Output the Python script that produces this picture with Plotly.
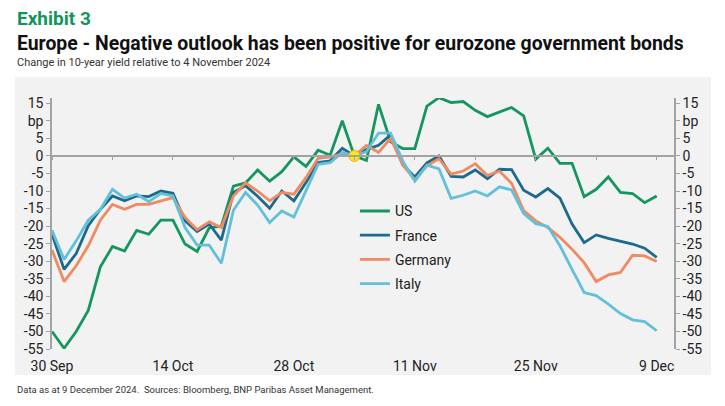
import pandas as pd
import plotly.graph_objects as go

# business days 30 Sep - 9 Dec 2024
datas = [d.strftime("%Y-%m-%d") for d in pd.bdate_range("2024-09-30", "2024-12-09")]

us = [-50, -54.8, -50, -44, -31.6, -25.8, -27.1, -21.2, -22.3, -18.3,
      -18.3, -25.1, -27.2, -20.5, -20, -8.6, -7.7, -4, -7.2, -4.5,
      -0.3, -3, 1.6, 0.2, 10, 0, -1.3, 14.7, 4, 2.1,
      2.1, 14.2, 16.6, 15.2, 15.5, 13, 11.2, 12.6, 13.8, 11.4,
      -0.9, 2.2, -2.1, -2.1, -11.6, -9.5, -6, -10.4, -10.7, -13.3,
      -11.4]
franca = [-22.3, -32.3, -27.8, -19.9, -15.2, -11.4, -12.8, -11.4, -11.6, -10,
          -10.6, -18.5, -21.5, -19.4, -24, -10.4, -8.5, -11.5, -14.9, -10,
          -12.8, -7.6, -1.9, -1.4, 2.2, 0, 1.8, 3, 6, -2.5,
          -6, -2, 0, -5.8, -6, -4, -6.5, -3.8, -3.9, -9.8,
          -11.7, -9.3, -12, -19.4, -24.7, -22.5, -23.5, -24.4, -25.1, -26.3,
          -28.9]
alemanha = [-26.8, -35.8, -31.3, -25.6, -18.3, -13.8, -15.2, -13.8, -13.8, -12.8,
            -11.9, -17.5, -21, -18.8, -20.4, -11.4, -7.7, -10, -12.8, -10.4,
            -10.9, -6.2, -0.7, -0.3, 0.5, 0, 3, 1, 5, -2.5,
            -6.8, -2.8, -0.8, -5.2, -4.3, -2.2, -5.6, -4.3, -7.8, -15.6,
            -18.5, -20.4, -23.2, -26.6, -30.4, -35.8, -33.9, -33.2, -28.3, -28.5,
            -30.1]
italia = [-21.2, -29.5, -24.2, -18.3, -15.2, -9.5, -12, -10.9, -13, -10.7,
          -11.4, -20.4, -25.4, -25.4, -30.6, -15.5, -10.4, -14, -19, -15.7,
          -17.4, -10, -2.4, -1.9, 1, 0, 1.2, 6.5, 6.5, -1.4,
          -7.2, -2.6, -3.7, -12.1, -11.2, -10, -11.4, -8.8, -9.7, -16.4,
          -19.3, -20.1, -25.6, -32.3, -38.9, -39.8, -42.2, -44.9, -46.7, -47.2,
          -49.8]

series = {"US": us, "France": franca, "Germany": alemanha, "Italy": italia}
cores = {"US": "#14965e", "France": "#1f6a8a", "Germany": "#ef8a62", "Italy": "#62c1da"}

data_ref = "2024-11-04"
semanas = datas[::5]
rotulos_x = ["30 Sep", "14 Oct", "28 Oct", "11 Nov", "25 Nov", "9 Dec"]
y_ticks = [15, 10, 5, 0, -5, -10, -15, -20, -25, -30, -35, -40, -45, -50, -55]
y_labels = ["15", "bp", "5", "0", "-5", "-10", "-15", "-20", "-25", "-30",
            "-35", "-40", "-45", "-50", "-55"]

cinza = "#a3a3a3"
fonte = "Roboto"

fig = go.Figure()
for nome, valores in series.items():
    fig.add_trace(go.Scatter(x=datas, y=valores, name=nome, mode="lines",
                             legendgroup=nome,
                             line=dict(color=cores[nome], width=2.8)))

fig.add_trace(go.Scatter(x=[data_ref], y=[0], xaxis="x2", yaxis="y2",
                         mode="markers", showlegend=False,
                         marker=dict(size=11, color="#ffe81a",
                                     line=dict(color="#f0b400", width=1))))

x_range = [0, 51.43]
y_range = [-55, 16.5]
zero_pos = (0 - y_range[0]) / (y_range[1] - y_range[0])

eixo_x = dict(type="category", categoryorder="array", categoryarray=datas,
              range=x_range, showgrid=False, zeroline=False)
eixo_y = dict(range=y_range, showgrid=False, zeroline=False, showline=True,
              linecolor=cinza, linewidth=1.5, ticks="outside", ticklen=4,
              tickcolor=cinza, tickwidth=1.2, tickvals=y_ticks, ticktext=y_labels,
              tickfont=dict(family=fonte, size=14, color="#222"))

fig.update_layout(
    width=725, height=406, autosize=False,
    margin=dict(l=52, r=51, t=98, b=57),
    paper_bgcolor="white", plot_bgcolor="rgba(0,0,0,0)",
    font=dict(family=fonte, color="#222"),
    xaxis=dict(eixo_x, showline=False, ticks="outside", ticklen=4,
               tickcolor="rgba(0,0,0,0)", tickvals=semanas[::2], ticktext=rotulos_x,
               tickfont=dict(family=fonte, size=14, color="#222")),
    xaxis2=dict(eixo_x, overlaying="x", anchor="free", position=zero_pos,
                showline=True, linecolor=cinza, linewidth=1.5, ticks="outside",
                ticklen=3, tickcolor=cinza, tickwidth=1.2, tickvals=semanas,
                showticklabels=False),
    yaxis=dict(eixo_y, side="left"),
    yaxis2=dict(eixo_y, side="right", overlaying="y", anchor="x"),
    legend=dict(x=0.487, y=0.612, xanchor="left", yanchor="top",
                bgcolor="rgba(0,0,0,0)", tracegroupgap=3,
                font=dict(family=fonte, size=14, color="#222")),
    shapes=[dict(type="rect", xref="paper", yref="paper", layer="below",
                 x0=-0.0595, x1=1.0595, y0=-0.1036, y1=1.0837,
                 fillcolor="#f2f2f2", line=dict(width=0))],
)

fig.add_annotation(text="<b>Exhibit 3</b>", xref="paper", yref="paper",
                   x=-0.0595, y=1.316, xanchor="left", yanchor="middle",
                   showarrow=False, font=dict(family=fonte, size=19, color="#12945c"))
fig.add_annotation(text="<b>Europe - Negative outlook has been positive for eurozone government bonds</b>",
                   xref="paper", yref="paper", x=-0.0595, y=1.219,
                   xanchor="left", yanchor="middle", showarrow=False,
                   font=dict(family=fonte, size=19.4, color="#111"))
fig.add_annotation(text="Change in 10-year yield relative to 4 November 2024",
                   xref="paper", yref="paper", x=-0.0595, y=1.143,
                   xanchor="left", yanchor="middle", showarrow=False,
                   font=dict(family=fonte, size=11, color="#333"))
fig.add_annotation(text="Data as at 9 December 2024.  Sources: Bloomberg, BNP Paribas Asset Management.",
                   xref="paper", yref="paper", x=-0.0595, y=-0.16,
                   xanchor="left", yanchor="middle", showarrow=False,
                   font=dict(family=fonte, size=9.5, color="#333"))

# page has a default body margin of 8px; remove it so the figure fills the window
fig.write_html("out.html", config={"displayModeBar": False},
               post_script="document.body.style.margin='0';")
